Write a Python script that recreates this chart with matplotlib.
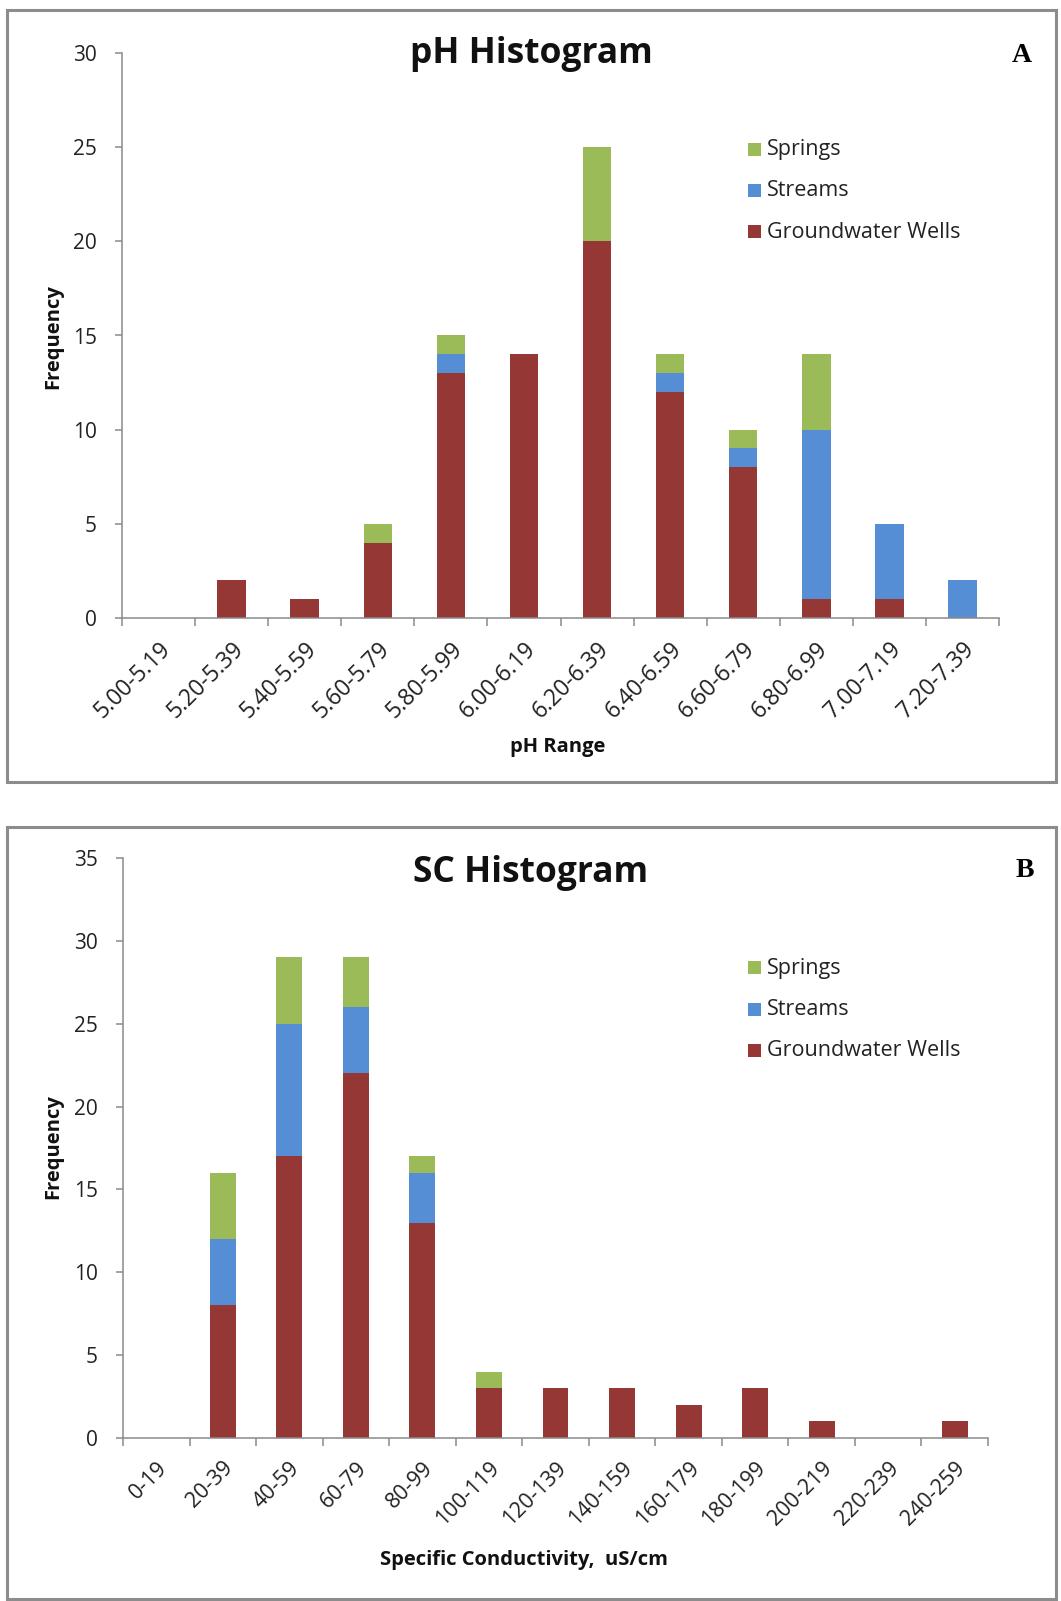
import matplotlib
matplotlib.use("Agg")
import matplotlib.pyplot as plt
from matplotlib.patches import Rectangle
import numpy as np

# ---------------- data ----------------
ph_categories = ["5.00-5.19", "5.20-5.39", "5.40-5.59", "5.60-5.79", "5.80-5.99", "6.00-6.19",
                 "6.20-6.39", "6.40-6.59", "6.60-6.79", "6.80-6.99", "7.00-7.19", "7.20-7.39"]
ph_wells   = [0, 2, 1, 4, 13, 14, 20, 12, 8, 1, 1, 0]
ph_streams = [0, 0, 0, 0, 1, 0, 0, 1, 1, 9, 4, 2]
ph_springs = [0, 0, 0, 1, 1, 0, 5, 1, 1, 4, 0, 0]

sc_categories = ["0-19", "20-39", "40-59", "60-79", "80-99", "100-119", "120-139",
                 "140-159", "160-179", "180-199", "200-219", "220-239", "240-259"]
sc_wells   = [0, 8, 17, 22, 13, 3, 3, 3, 2, 3, 1, 0, 1]
sc_streams = [0, 4, 8, 4, 3, 0, 0, 0, 0, 0, 0, 0, 0]
sc_springs = [0, 4, 4, 3, 1, 1, 0, 0, 0, 0, 0, 0, 0]

series_names = ["Groundwater Wells", "Streams", "Springs"]
colors = {"Groundwater Wells": "#953735", "Streams": "#558ED5", "Springs": "#9BBB59"}

# ---------------- figure ----------------
W, H = 1061, 1601
fig = plt.figure(figsize=(W / 100, H / 100), dpi=100)
FONT = "Open Sans"
AXC = "#8A8A8A"

def fx(x):
    return x / W

def fy(y):
    return 1 - y / H

def panel(ax_rect, cats, wells, streams, springs, ymax, title, letter, xlabel,
          title_y, letter_xy, legend_ys, xlabel_xy, ylabel_y, box, xtick_size):
    # border
    x0, y0, x1, y1 = box
    fig.add_artist(Rectangle((fx(x0), fy(y1)), fx(x1 - x0), (y1 - y0) / H,
                             transform=fig.transFigure, fill=False,
                             edgecolor="#8C8C8C", linewidth=2.2))
    ax = fig.add_axes(ax_rect)
    x = np.arange(len(cats))
    w = 0.39
    wells = np.array(wells); streams = np.array(streams); springs = np.array(springs)
    ax.bar(x, wells, w, color=colors["Groundwater Wells"], edgecolor="none")
    ax.bar(x, streams, w, bottom=wells, color=colors["Streams"], edgecolor="none")
    ax.bar(x, springs, w, bottom=wells + streams, color=colors["Springs"], edgecolor="none")
    ax.set_xlim(-0.5, len(cats) - 0.5)
    ax.set_ylim(0, ymax)
    ax.set_yticks(np.arange(0, ymax + 1, 5))
    for s in ["top", "right"]:
        ax.spines[s].set_visible(False)
    for s in ["left", "bottom"]:
        ax.spines[s].set_color(AXC)
        ax.spines[s].set_linewidth(1.1)
    ax.tick_params(axis="y", direction="out", length=5, width=1.1, color=AXC,
                   labelsize=15, pad=13, labelcolor="#222222")
    ax.set_xticks(x)
    ax.set_xticklabels(cats, rotation=45, ha="right", va="top", rotation_mode="anchor",
                       fontsize=xtick_size, color="#222222")
    ax.tick_params(axis="x", which="major", length=0, pad=14)
    ax.set_xticks(np.arange(-0.5, len(cats), 1.0), minor=True)
    ax.tick_params(axis="x", which="minor", direction="out", length=6, width=1.1, color=AXC)
    for lab in ax.get_yticklabels() + ax.get_xticklabels():
        lab.set_fontfamily(FONT)
    # title & letter
    fig.text(fx(531), fy(title_y), title, ha="center", va="center", fontsize=25.5,
             fontweight="bold", family=FONT, color="#111111")
    fig.text(fx(letter_xy[0]), fy(letter_xy[1]), letter, ha="center", va="center",
             fontsize=20, fontweight="bold", family="Liberation Serif", color="black")
    # axis labels
    fig.text(fx(xlabel_xy[0]), fy(xlabel_xy[1]), xlabel, ha="center", va="center",
             fontsize=14.5, fontweight="bold", family=FONT, color="#111111")
    fig.text(fx(53), fy(ylabel_y), "Frequency", ha="center", va="center", rotation=90,
             fontsize=14.5, fontweight="bold", family=FONT, color="#111111")
    # legend
    for name, ly in zip(["Springs", "Streams", "Groundwater Wells"], legend_ys):
        fig.add_artist(Rectangle((fx(748), fy(ly + 6.5)), fx(13), 13 / H,
                                 transform=fig.transFigure, facecolor=colors[name],
                                 edgecolor="none"))
        fig.text(fx(767), fy(ly), name, ha="left", va="center", fontsize=15.5,
                 family=FONT, color="#222222")
    return ax

panel([fx(122), fy(618), fx(999 - 122), (618 - 53) / H],
      ph_categories, ph_wells, ph_streams, ph_springs, 30,
      "pH Histogram", "A", "pH Range",
      title_y=54, letter_xy=(1022, 56), legend_ys=(150, 191, 232),
      xlabel_xy=(558, 747), ylabel_y=337, box=(7, 10, 1056, 782), xtick_size=16.5)

panel([fx(123), fy(1438), fx(988 - 123), (1438 - 858) / H],
      sc_categories, sc_wells, sc_streams, sc_springs, 35,
      "SC Histogram", "B", "Specific Conductivity,  uS/cm",
      title_y=873, letter_xy=(1025, 870), legend_ys=(968, 1009, 1050),
      xlabel_xy=(524, 1560), ylabel_y=1147, box=(7, 827, 1056, 1599), xtick_size=15.5)

fig.savefig("out.png", dpi=100, facecolor="white")
